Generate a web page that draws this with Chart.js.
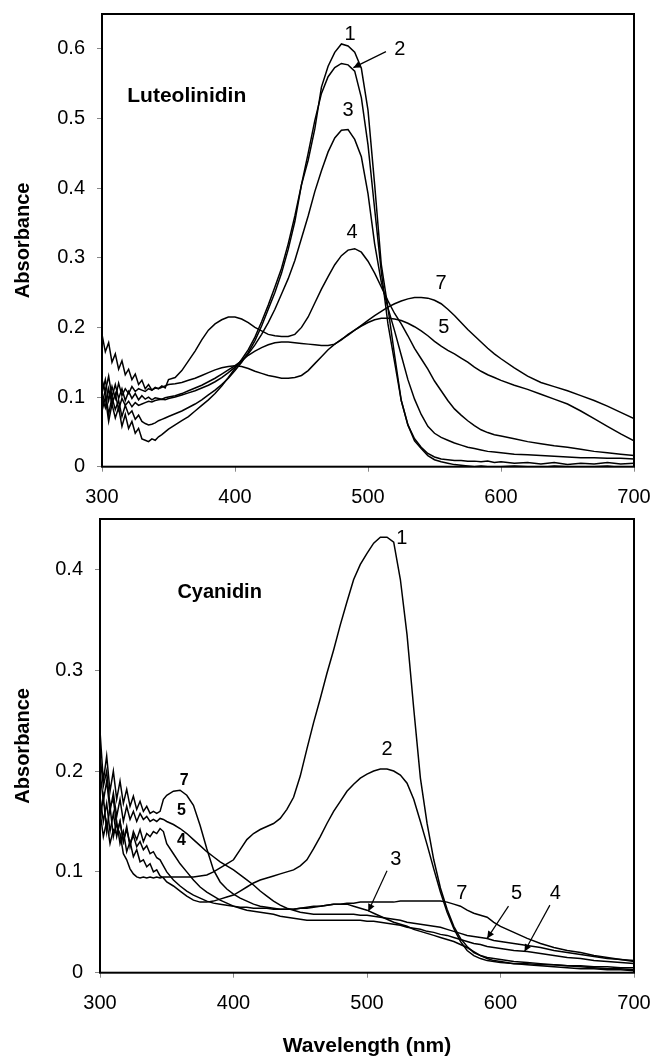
<!DOCTYPE html>
<html>
<head>
<meta charset="utf-8">
<script src="https://cdn.jsdelivr.net/npm/chart.js@4.4.1/dist/chart.umd.min.js"></script>
<style>
  body { margin: 0; background: #fff; }
  #wrap { position: relative; width: 652px; height: 1059px; }
  canvas { position: absolute; left: 0; }
</style>
</head>
<body>
<div id="wrap">
  <canvas id="topChart" width="652" height="510" style="top:0"></canvas>
  <canvas id="bottomChart" width="652" height="554" style="top:505px"></canvas>
</div>
<script>
// wavelengths (nm), shared by all spectra
const wavelengths = [
  300, 302.5, 305, 307.5, 310, 312.5, 315, 317.5, 320, 322.5, 325, 327.5, 330, 332.5, 335, 337.5, 340, 342.5, 345, 347.5, 350,
  355, 360, 365, 370, 375, 380, 385, 390, 395, 400,
  405, 410, 415, 420, 425, 430, 435, 440, 445, 450,
  455, 460, 465, 470, 475, 480, 485, 490, 495, 500,
  505, 510, 515, 520, 525, 530, 535, 540, 545, 550,
  555, 560, 565, 570, 575, 580, 585, 590, 595, 600,
  610, 620, 630, 640, 650, 660, 670, 680, 690, 700
];

const curveNames = ["1", "2", "3", "4", "5", "7"];
const xTicks = [300, 400, 500, 600, 700];
const topYTicks = [0, 0.1, 0.2, 0.3, 0.4, 0.5, 0.6];
const bottomYTicks = [0, 0.1, 0.2, 0.3, 0.4];

// Luteolinidin
const lut1 = [
  0.080, 0.100, 0.065, 0.090, 0.070, 0.085, 0.058, 0.075, 0.055, 0.065, 0.048, 0.055, 0.040, 0.038, 0.036, 0.040, 0.038, 0.043, 0.046, 0.050, 0.054,
  0.060, 0.066, 0.072, 0.080, 0.088, 0.096, 0.105, 0.116, 0.128, 0.141,
  0.154, 0.168, 0.186, 0.208, 0.232, 0.258, 0.285, 0.320, 0.360, 0.405,
  0.440, 0.485, 0.545, 0.575, 0.595, 0.607, 0.604, 0.595, 0.572, 0.512,
  0.405, 0.290, 0.228, 0.160, 0.095, 0.060, 0.037, 0.026, 0.016, 0.010,
  0.007, 0.005, 0.003, 0.002, 0.001, 0.000, 0.001, 0.000, -0.001, 0.000,
  0.001, 0.000, -0.001, 0.001, 0.000, -0.001, 0.000, 0.001, -0.001, 0.000
];
const lut2 = [
  0.090, 0.110, 0.075, 0.100, 0.082, 0.095, 0.072, 0.088, 0.075, 0.080, 0.068, 0.074, 0.065, 0.062, 0.060, 0.061, 0.063, 0.066, 0.068, 0.070, 0.072,
  0.076, 0.080, 0.085, 0.090, 0.096, 0.103, 0.110, 0.118, 0.127, 0.138,
  0.150, 0.164, 0.181, 0.202, 0.226, 0.250, 0.278, 0.312, 0.352, 0.405,
  0.450, 0.497, 0.536, 0.560, 0.573, 0.579, 0.577, 0.568, 0.530, 0.462,
  0.370, 0.280, 0.205, 0.150, 0.095, 0.060, 0.040, 0.028, 0.019, 0.014,
  0.011, 0.010, 0.009, 0.009, 0.008, 0.008, 0.007, 0.008, 0.006, 0.007,
  0.005, 0.006, 0.004, 0.006, 0.003, 0.005, 0.004, 0.006, 0.004, 0.005
];
const lut3 = [
  0.100, 0.085, 0.112, 0.090, 0.105, 0.082, 0.098, 0.088, 0.094, 0.086, 0.092, 0.088, 0.090, 0.092, 0.094, 0.093, 0.095, 0.096, 0.097, 0.096, 0.098,
  0.100, 0.103, 0.106, 0.109, 0.113, 0.117, 0.122, 0.128, 0.135, 0.143,
  0.152, 0.162, 0.175, 0.190, 0.207, 0.226, 0.248, 0.270, 0.296, 0.328,
  0.360, 0.395, 0.425, 0.452, 0.472, 0.483, 0.484, 0.470, 0.445, 0.392,
  0.320, 0.265, 0.228, 0.195, 0.160, 0.125, 0.097, 0.075, 0.058, 0.048,
  0.042, 0.038, 0.034, 0.031, 0.028, 0.026, 0.024, 0.022, 0.021, 0.020,
  0.018, 0.017, 0.016, 0.015, 0.014, 0.013, 0.013, 0.012, 0.012, 0.011
];
const lut4 = [
  0.190, 0.165, 0.178, 0.150, 0.162, 0.140, 0.152, 0.132, 0.140, 0.125, 0.133, 0.118, 0.124, 0.112, 0.118, 0.110, 0.114, 0.112, 0.116, 0.113, 0.125,
  0.128, 0.138, 0.152, 0.166, 0.182, 0.196, 0.205, 0.211, 0.215, 0.215,
  0.212, 0.207, 0.200, 0.195, 0.190, 0.188, 0.187, 0.187, 0.190, 0.200,
  0.215, 0.235, 0.255, 0.273, 0.290, 0.303, 0.311, 0.313, 0.308, 0.295,
  0.278, 0.258, 0.238, 0.220, 0.205, 0.188, 0.170, 0.155, 0.140, 0.123,
  0.109, 0.095, 0.083, 0.074, 0.066, 0.059, 0.053, 0.049, 0.046, 0.044,
  0.040, 0.036, 0.033, 0.030, 0.028, 0.025, 0.022, 0.020, 0.018, 0.016
];
const lut5 = [
  0.125, 0.108, 0.130, 0.100, 0.118, 0.098, 0.112, 0.095, 0.108, 0.098, 0.105, 0.096, 0.102, 0.097, 0.100, 0.096, 0.099, 0.098, 0.097, 0.099, 0.100,
  0.102, 0.105, 0.109, 0.113, 0.117, 0.122, 0.127, 0.133, 0.139, 0.145,
  0.152, 0.160, 0.166, 0.171, 0.175, 0.178, 0.179, 0.179, 0.178, 0.177,
  0.176, 0.175, 0.174, 0.174, 0.176, 0.182, 0.190, 0.196, 0.202, 0.207,
  0.211, 0.213, 0.213, 0.212, 0.210, 0.206, 0.201, 0.195, 0.188, 0.180,
  0.173, 0.167, 0.162, 0.156, 0.150, 0.143, 0.137, 0.132, 0.128, 0.124,
  0.117, 0.111, 0.104, 0.097, 0.090, 0.080, 0.069, 0.058, 0.047, 0.037
];
const lut7 = [
  0.105, 0.125, 0.095, 0.115, 0.098, 0.120, 0.102, 0.112, 0.105, 0.115, 0.108, 0.112, 0.110, 0.108, 0.112, 0.110, 0.113, 0.112, 0.114, 0.116, 0.118,
  0.119, 0.121, 0.124, 0.127, 0.131, 0.135, 0.139, 0.142, 0.144, 0.145,
  0.144, 0.141, 0.137, 0.134, 0.131, 0.129, 0.127, 0.127, 0.128, 0.131,
  0.138, 0.148, 0.158, 0.168, 0.176, 0.183, 0.189, 0.196, 0.203, 0.210,
  0.217, 0.223, 0.229, 0.234, 0.238, 0.241, 0.243, 0.243, 0.242, 0.239,
  0.234, 0.226, 0.217, 0.207, 0.197, 0.188, 0.179, 0.170, 0.162, 0.155,
  0.142, 0.130, 0.121, 0.115, 0.109, 0.102, 0.095, 0.087, 0.078, 0.069
];

// Cyanidin
const cya1 = [
  0.215, 0.185, 0.200, 0.165, 0.172, 0.145, 0.138, 0.118, 0.112, 0.103, 0.098, 0.095, 0.094, 0.095, 0.094, 0.095, 0.094, 0.095, 0.094, 0.095, 0.095,
  0.095, 0.095, 0.095, 0.095, 0.096, 0.097, 0.100, 0.104, 0.108, 0.112,
  0.122, 0.132, 0.138, 0.142, 0.145, 0.148, 0.153, 0.162, 0.174, 0.195,
  0.222, 0.248, 0.272, 0.297, 0.320, 0.345, 0.368, 0.390, 0.405, 0.416,
  0.426, 0.432, 0.432, 0.427, 0.390, 0.335, 0.262, 0.193, 0.148, 0.112,
  0.084, 0.063, 0.046, 0.034, 0.026, 0.020, 0.017, 0.015, 0.014, 0.013,
  0.011, 0.010, 0.009, 0.008, 0.007, 0.006, 0.005, 0.004, 0.004, 0.003
];
const cya2 = [
  0.150, 0.175, 0.140, 0.165, 0.135, 0.150, 0.128, 0.140, 0.120, 0.130, 0.115, 0.122, 0.110, 0.112, 0.105, 0.108, 0.100, 0.102, 0.096, 0.094, 0.090,
  0.086, 0.081, 0.076, 0.072, 0.070, 0.070, 0.071, 0.073, 0.075, 0.077,
  0.081, 0.085, 0.089, 0.092, 0.094, 0.096, 0.098, 0.100, 0.102, 0.106,
  0.112, 0.123, 0.135, 0.148, 0.160, 0.170, 0.180, 0.187, 0.193, 0.197,
  0.200, 0.202, 0.202, 0.200, 0.196, 0.188, 0.172, 0.150, 0.127, 0.103,
  0.080, 0.060, 0.044, 0.031, 0.022, 0.017, 0.014, 0.012, 0.011, 0.010,
  0.009, 0.008, 0.007, 0.006, 0.005, 0.004, 0.004, 0.003, 0.003, 0.002
];
const cya3 = [
  0.175, 0.150, 0.168, 0.140, 0.158, 0.135, 0.150, 0.130, 0.142, 0.128, 0.136, 0.125, 0.130, 0.122, 0.126, 0.118, 0.120, 0.114, 0.112, 0.106, 0.100,
  0.092, 0.086, 0.081, 0.077, 0.074, 0.071, 0.069, 0.068, 0.067, 0.066,
  0.065, 0.065, 0.064, 0.064, 0.064, 0.063, 0.063, 0.063, 0.063, 0.064,
  0.064, 0.065, 0.066, 0.067, 0.068, 0.068, 0.068, 0.066, 0.064, 0.062,
  0.059, 0.056, 0.053, 0.050, 0.048, 0.046, 0.043, 0.041, 0.039, 0.037,
  0.035, 0.033, 0.031, 0.028, 0.025, 0.021, 0.017, 0.014, 0.012, 0.011,
  0.009, 0.009, 0.008, 0.008, 0.007, 0.007, 0.006, 0.006, 0.005, 0.005
];
const cya4 = [
  0.160, 0.135, 0.150, 0.128, 0.142, 0.138, 0.150, 0.130, 0.145, 0.125, 0.140, 0.132, 0.142, 0.130, 0.138, 0.135, 0.140, 0.138, 0.143, 0.140, 0.128,
  0.118, 0.108, 0.100, 0.092, 0.085, 0.080, 0.076, 0.072, 0.069, 0.066,
  0.064, 0.062, 0.061, 0.060, 0.059, 0.058, 0.056, 0.055, 0.054, 0.053,
  0.052, 0.052, 0.052, 0.052, 0.052, 0.052, 0.052, 0.052, 0.052, 0.051,
  0.051, 0.050, 0.049, 0.048, 0.047, 0.045, 0.044, 0.043, 0.041, 0.040,
  0.038, 0.037, 0.035, 0.033, 0.031, 0.029, 0.028, 0.026, 0.025, 0.024,
  0.022, 0.021, 0.019, 0.017, 0.015, 0.014, 0.012, 0.011, 0.010, 0.009
];
const cya5 = [
  0.200, 0.170, 0.190, 0.160, 0.178, 0.155, 0.172, 0.150, 0.165, 0.152, 0.160, 0.150, 0.158, 0.152, 0.155, 0.150, 0.152, 0.150, 0.153, 0.152, 0.150,
  0.147, 0.143, 0.138, 0.132, 0.126, 0.120, 0.115, 0.110, 0.106, 0.102,
  0.097, 0.092, 0.087, 0.081, 0.076, 0.071, 0.067, 0.064, 0.062, 0.060,
  0.059, 0.058, 0.058, 0.058, 0.058, 0.058, 0.058, 0.058, 0.057, 0.057,
  0.056, 0.055, 0.054, 0.053, 0.052, 0.050, 0.049, 0.048, 0.047, 0.046,
  0.045, 0.043, 0.041, 0.039, 0.037, 0.036, 0.035, 0.034, 0.032, 0.031,
  0.029, 0.027, 0.025, 0.022, 0.020, 0.018, 0.016, 0.014, 0.013, 0.012
];
const cya7 = [
  0.240, 0.190, 0.215, 0.180, 0.200, 0.172, 0.190, 0.168, 0.182, 0.165, 0.175, 0.162, 0.170, 0.160, 0.165, 0.158, 0.160, 0.158, 0.160, 0.172, 0.176,
  0.180, 0.181, 0.176, 0.166, 0.146, 0.123, 0.102, 0.090, 0.083, 0.078,
  0.074, 0.071, 0.068, 0.066, 0.065, 0.064, 0.063, 0.063, 0.063, 0.064,
  0.065, 0.066, 0.066, 0.067, 0.068, 0.068, 0.069, 0.069, 0.070, 0.070,
  0.070, 0.070, 0.070, 0.070, 0.071, 0.071, 0.071, 0.071, 0.071, 0.071,
  0.071, 0.070, 0.068, 0.066, 0.062, 0.059, 0.057, 0.055, 0.050, 0.046,
  0.040, 0.034, 0.029, 0.025, 0.022, 0.020, 0.017, 0.015, 0.013, 0.011
];

// curve numbers written on the plots (wavelength, absorbance)
const topNotes = [
  { text: "1", x: 486.5, y: 0.621 },
  { text: "2", x: 524, y: 0.599 },
  { text: "3", x: 485, y: 0.511 },
  { text: "4", x: 488, y: 0.337 },
  { text: "7", x: 555, y: 0.263 },
  { text: "5", x: 557, y: 0.200 },
  { text: "Luteolinidin", x: 319, y: 0.532, bold: true, align: "left", size: 21 }
];
const topArrows = [
  { fromX: 513.5, fromY: 0.596, toX: 489, toY: 0.573 }
];
const bottomNotes = [
  { text: "1", x: 526, y: 0.431 },
  { text: "2", x: 515, y: 0.221 },
  { text: "3", x: 521.5, y: 0.112 },
  { text: "7", x: 571, y: 0.0785 },
  { text: "5", x: 612, y: 0.0785 },
  { text: "4", x: 641, y: 0.0785 },
  { text: "7", x: 363, y: 0.191, bold: true, size: 16 },
  { text: "5", x: 361, y: 0.161, bold: true, size: 16 },
  { text: "4", x: 361, y: 0.131, bold: true, size: 16 },
  { text: "Cyanidin", x: 358, y: 0.377, bold: true, align: "left", size: 20 }
];
const bottomArrows = [
  { fromX: 515, fromY: 0.101, toX: 501, toY: 0.061 },
  { fromX: 606, fromY: 0.066, toX: 590, toY: 0.034 },
  { fromX: 637, fromY: 0.067, toX: 618, toY: 0.021 }
];

const FONT = "'Liberation Sans', Arial, sans-serif";
Chart.defaults.font.family = FONT;
Chart.defaults.color = "#000";

/**
 * Ritar en pil mellan två datapunkter
 */
function drawArrow(ctx, scales, ar) {
  const x1 = scales.x.getPixelForValue(ar.fromX);
  const y1 = scales.y.getPixelForValue(ar.fromY);
  const x2 = scales.x.getPixelForValue(ar.toX);
  const y2 = scales.y.getPixelForValue(ar.toY);
  const ang = Math.atan2(y2 - y1, x2 - x1);
  ctx.lineWidth = 1.2;
  ctx.beginPath();
  ctx.moveTo(x1, y1);
  ctx.lineTo(x2, y2);
  ctx.stroke();
  ctx.beginPath();
  ctx.moveTo(x2, y2);
  ctx.lineTo(x2 - 8 * Math.cos(ang - 0.45), y2 - 8 * Math.sin(ang - 0.45));
  ctx.lineTo(x2 - 8 * Math.cos(ang + 0.45), y2 - 8 * Math.sin(ang + 0.45));
  ctx.closePath();
  ctx.fill();
}

// ram runt ritytan + siffror och pilar
const framePlugin = {
  id: "frame",
  afterDatasetsDraw(chart, args, opts) {
    const { ctx, chartArea: a, scales } = chart;
    ctx.save();
    ctx.strokeStyle = "#000";
    ctx.fillStyle = "#000";
    ctx.lineWidth = 2;
    ctx.strokeRect(a.left, a.top, a.right - a.left, a.bottom - a.top);
    (opts.notes || []).forEach((n) => {
      ctx.font = (n.bold ? "bold " : "") + (n.size || 20) + "px " + FONT;
      ctx.textAlign = n.align || "center";
      ctx.textBaseline = "middle";
      ctx.fillText(n.text, scales.x.getPixelForValue(n.x), scales.y.getPixelForValue(n.y));
    });
    (opts.arrows || []).forEach((ar) => drawArrow(ctx, scales, ar));
    ctx.restore();
  },
};

/**
 * Skapar ett spektrumdiagram
 */
function renderSpectra(canvasId, curves, cfg) {
  const datasets = curves.map((values, i) => ({
    label: curveNames[i],
    data: wavelengths.map((w, j) => ({ x: w, y: values[j] })),
    borderColor: "#000",
    borderWidth: 1.5,
    pointRadius: 0,
    tension: 0,
    fill: false,
  }));

  new Chart(document.getElementById(canvasId), {
    type: "line",
    data: { datasets },
    plugins: [framePlugin],
    options: {
      responsive: false,
      animation: false,
      devicePixelRatio: 1,
      layout: { padding: { top: 14, right: 18, left: 0, bottom: 0 } },
      plugins: {
        legend: { display: false },
        tooltip: { enabled: false },
        frame: { notes: cfg.notes, arrows: cfg.arrows },
      },
      scales: {
        x: {
          type: "linear",
          min: 300,
          max: 700,
          afterBuildTicks: (scale) => { scale.ticks = xTicks.map((v) => ({ value: v })); },
          afterFit: (scale) => {
            scale.height = cfg.xHeight;
            scale.paddingLeft = 0;
            scale.paddingRight = 0;
          },
          ticks: { font: { size: 20 }, padding: 14, maxRotation: 0, color: "#000" },
          grid: { drawOnChartArea: false, tickLength: 5, color: "#888" },
          border: { display: false },
          title: {
            display: cfg.xTitle,
            text: "Wavelength (nm)",
            font: { size: 21, weight: "bold" },
            color: "#000",
            padding: { top: 0, bottom: 0 },
          },
        },
        y: {
          type: "linear",
          min: 0,
          max: cfg.yMax,
          afterBuildTicks: (scale) => { scale.ticks = cfg.yTicks.map((v) => ({ value: v })); },
          afterFit: (scale) => {
            scale.width = cfg.yWidth;
            scale.paddingTop = 0;
            scale.paddingBottom = 0;
          },
          ticks: {
            font: { size: 20 },
            padding: 12,
            color: "#000",
            callback: (v) => String(Number(v.toFixed(1))),
          },
          grid: { drawOnChartArea: false, tickLength: 5, color: "#888" },
          border: { display: false },
          title: {
            display: true,
            text: "Absorbance",
            font: { size: 20, weight: "bold" },
            color: "#000",
            padding: { top: 11, bottom: 0 },
          },
        },
      },
    },
  });
}

// kör funktionerna
renderSpectra("topChart", [lut1, lut2, lut3, lut4, lut5, lut7], {
  yMax: 0.65, yTicks: topYTicks, yWidth: 102, xHeight: 43.3, xTitle: false,
  notes: topNotes, arrows: topArrows,
});
renderSpectra("bottomChart", [cya1, cya2, cya3, cya4, cya5, cya7], {
  yMax: 0.45, yTicks: bottomYTicks, yWidth: 100, xHeight: 86.3, xTitle: true,
  notes: bottomNotes, arrows: bottomArrows,
});
</script>
</body>
</html>
